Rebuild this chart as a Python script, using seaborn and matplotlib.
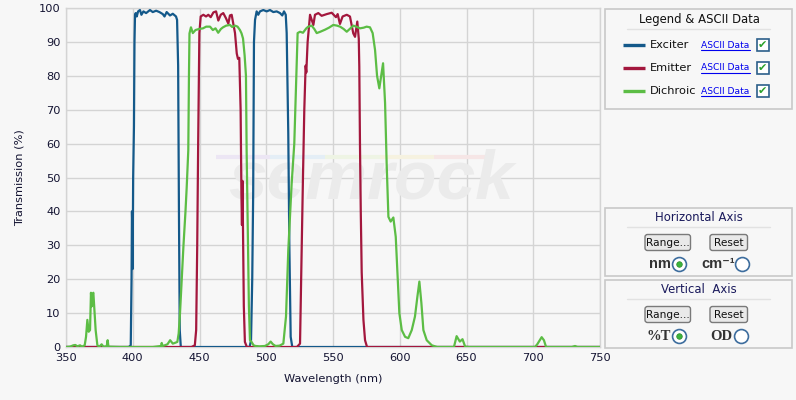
"""Semrock-style filter set spectrum: exciter / emitter / dichroic transmission."""
import numpy as np
import pandas as pd
import matplotlib
matplotlib.use('Agg')
import matplotlib.pyplot as plt
import seaborn as sns
from matplotlib.patches import Rectangle, FancyBboxPatch

W, H = 796, 400
BG = '#f7f7f7'
TXT = '#141432'

# values (wavelength nm, transmission %)
exciter_nm = [350, 397, 398.5, 399.1, 399.4, 399.7, 399.9, 400.3, 400.9, 401.3, 401.7,
              402.2, 403, 404, 405.4, 406.5, 408, 410, 412.9, 415, 417.5, 420, 422.5,
              423.8, 425.4, 427.9, 430, 432.4, 433.2, 434, 434.6, 435.2, 436,
              487.5, 488.6, 489.5, 490.2, 490.8, 491.6, 492.8, 494, 495.3, 497.8, 500.3,
              502.8, 505.3, 507.8, 510.3, 512, 513.3, 514.6, 515.3, 516.5, 517.3, 518.3,
              519.5, 750]
exciter_t = [0, 0, 0.5, 20, 40, 35, 23, 50, 65, 90, 98,
             98.5, 97.5, 99, 99.4, 98, 99, 98.5, 99.4, 98.8, 99.2, 98.8, 98.2,
             97.5, 98.8, 97.8, 98.3, 97.5, 96.5, 83, 40, 5, 0,
             0, 2, 20, 45, 90, 96.5, 99, 98, 99, 99.4, 99,
             99.4, 98.8, 99, 98.5, 97.8, 99, 98, 92.6, 63, 30, 3,
             0, 0]

emitter_nm = [350, 444, 446.5, 447.5, 448.3, 449, 449.9, 450.9, 452.9, 454.9, 456.6,
              458.4, 460.4, 462.4, 464.1, 465.9, 467.8, 469.8, 471.6, 472.8, 474.1,
              475.3, 476.6, 477.9, 478.8, 479.8, 480.8, 481.4, 481.8, 482.2, 482.6,
              483.2, 484, 485.5,
              523, 525.3, 526.5, 527.5, 528.5, 529.5, 530, 531, 532.8, 535.3, 536.5,
              539, 541.5, 545.3, 549, 550.5, 552.2, 553.5, 555.2, 557.2, 560.3, 562.7,
              565.2, 566.5, 568.2, 569.3, 569.7, 570.2, 570.8, 571.5, 572.8, 574,
              575.5, 750]
emitter_t = [0, 0, 0.5, 5, 30, 60, 92.6, 97.5, 98, 97.5, 98,
             97.3, 98.7, 99, 96.3, 98, 98.5, 97, 95.4, 97.8, 98,
             95.4, 92.6, 86.6, 85, 85.3, 70, 45, 36, 49, 34,
             12, 1.5, 0,
             0, 1, 28, 50, 70, 83, 81, 90, 98, 95, 98,
             98.5, 97.7, 98.2, 98.6, 98, 97.3, 98.2, 95.3, 97.5, 98, 97.5,
             92.5, 91.5, 96, 91, 82.7, 60, 40, 22, 8, 2,
             0, 0]

dichroic_nm = [350, 353, 355.5, 357, 358.5, 360.5, 362, 364, 365, 366, 367, 368,
               368.7, 369.3, 369.7, 370.5, 371.2, 372.2, 373.5, 375, 376.7, 378,
               380.5, 381.2, 381.8, 390, 415, 419, 421.2, 421.7, 422.3, 424, 426,
               428, 429, 430, 431.5, 433.4, 434.4, 435.4, 436.7, 438, 439.5, 440.4,
               441.6, 442.1, 442.5, 443.6, 445, 447, 449.5, 452.6, 455, 457.9, 460,
               462, 464, 466, 467.6, 470, 472.8, 474.5, 476.6, 478.5, 480.3, 481.5,
               482.6, 483.8, 484.8, 485.3, 486.3, 487, 487.8, 489, 490.5, 492, 495,
               499, 501.5, 503.3, 505, 507, 510, 512.8, 514.8, 516.5, 519, 521,
               522, 523.5, 525.3, 527.5, 530, 531.5, 534, 536, 537.8, 540.5, 544,
               547, 550.2, 553, 555.3, 558, 560.3, 562.5, 565.2, 567.5, 570.2, 573,
               575.2, 577.7, 579.7, 581.5, 583, 584.7, 586, 587.5, 589, 590.2, 591.5,
               593.2, 595.2, 597, 598.5, 599.7, 601.5, 604, 606.4, 609, 611.4, 613.2,
               614.7, 616.2, 617.7, 620.2, 624, 628, 640.6, 642.6, 645, 647, 649,
               652, 701.3, 703, 706.3, 708, 709.6, 729, 731.3, 733, 750]
dichroic_t = [0, 0.1, 0.5, 0.6, 0.2, 0.5, 0.1, 0.5, 3, 8, 4.5, 5,
              16, 12, 15.5, 16, 11.5, 5, 0.5, 0.1, 0.8, 0.1,
              0.2, 2, 0.1, 0, 0, 0.2, 0.3, 1.2, 0.3, 0.5, 0.8,
              2, 1.5, 1, 1.2, 1.5, 4, 10, 20, 30, 40, 47,
              58, 80, 92.5, 94.3, 92.6, 93.5, 93.8, 94, 94.5, 94.5, 93.5,
              94, 92.7, 93.8, 94.3, 94.8, 95, 94.4, 94.8, 94.5, 93.5, 92.5,
              91, 86, 80, 58, 30, 12, 2, 1.5, 0.5, 0.3, 0.2,
              0.3, 0.8, 1.6, 0.8, 0.3, 0.4, 1, 9, 28.5, 48, 60,
              73, 92.6, 93, 92.7, 94, 94.5, 94.8, 93.8, 92.6, 93, 93.6,
              94.2, 95, 94.8, 94.5, 93.8, 93, 93.8, 94.8, 94.5, 94, 94.2,
              94.5, 94.3, 92.6, 87.6, 80, 76.3, 79.7, 83.7, 72, 54, 38.4,
              37, 38.2, 32.5, 19.8, 10, 5, 3, 2.6, 5, 9, 14.8,
              19.3, 13, 5, 2, 0.5, 0, 0, 3.2, 1.6, 2.3, 0.1,
              0, 0, 0.8, 2.9, 2, 0, 0, 0.3, 0, 0]

series = ['Exciter', 'Emitter', 'Dichroic']
colors = {'Exciter': '#14598a', 'Emitter': '#a3173d', 'Dichroic': '#5cbd45'}

xticks = [350, 400, 450, 500, 550, 600, 650, 700, 750]
yticks = [0, 10, 20, 30, 40, 50, 60, 70, 80, 90, 100]

df = pd.concat([
    pd.DataFrame({'nm': exciter_nm, 'T': exciter_t, 'filter': 'Exciter'}),
    pd.DataFrame({'nm': emitter_nm, 'T': emitter_t, 'filter': 'Emitter'}),
    pd.DataFrame({'nm': dichroic_nm, 'T': dichroic_t, 'filter': 'Dichroic'}),
], ignore_index=True)

sns.set_theme(style='whitegrid')
plt.rcParams['font.family'] = ['DejaVu Sans']

fig = plt.figure(figsize=(W / 100, H / 100), dpi=100, facecolor=BG)
ax = fig.add_axes([66 / W, 1 - 347 / H, (600 - 66) / W, (347 - 8) / H])
ax.set_facecolor(BG)

sns.lineplot(data=df, x='nm', y='T', hue='filter', hue_order=series, palette=colors,
             estimator=None, sort=False, linewidth=1.6, legend=False, ax=ax, zorder=3)

ax.set_xlim(350, 750)
ax.set_ylim(0, 100)
ax.set_xticks(xticks)
ax.set_yticks(yticks)
ax.grid(True, color='#d4d4d4', linewidth=1.0)
for s in ax.spines.values():
    s.set_color('#d4d4d4')
    s.set_linewidth(1.0)
ax.tick_params(axis='both', length=0, labelsize=8.2, labelcolor=TXT, pad=4)
ax.set_xlabel('Wavelength (nm)', fontsize=8.2, color=TXT, labelpad=8)
ax.set_ylabel('Transmission (%)', fontsize=8.2, color=TXT, labelpad=10)

# faint watermark with its colour stripe
stripe = ['#ece6f4', '#e4eef6', '#eef4e4', '#f6f2e0', '#f6e6e6']
for i, c in enumerate(stripe):
    ax.plot([462 + i * 41, 503 + i * 41], [56, 56], color=c, lw=3,
            solid_capstyle='butt', zorder=1.4)
ax.text(0.572, 0.49, 'semrock', transform=ax.transAxes, ha='center', va='center',
        fontsize=50, fontstyle='italic', fontweight='bold', family='Liberation Sans',
        color='#ebebeb', zorder=1.5)

# overlay in pixel coordinates for the side panels
ov = fig.add_axes([0, 0, 1, 1], zorder=5)
ov.set_xlim(0, W)
ov.set_ylim(H, 0)
ov.axis('off')

PANEL_EDGE = '#c9c9c9'
SEP = '#e2e2e2'


def panel(y0, y1, title, title_color, sep_y):
    ov.add_patch(Rectangle((604.5, y0), 187, y1 - y0, fill=False, ec=PANEL_EDGE, lw=1.2))
    ov.text(699, (y0 + sep_y) / 2 + 0.5, title, ha='center', va='center', fontsize=8.4,
            color=title_color)
    ov.plot([627, 770], [sep_y, sep_y], color=SEP, lw=1)


def button(x0, x1, y0, y1, label):
    ov.add_patch(FancyBboxPatch((x0, y0), x1 - x0, y1 - y0,
                                boxstyle='round,pad=0,rounding_size=2.5',
                                fc='#e9e9e9', ec='#7a7a7a', lw=1))
    ov.text((x0 + x1) / 2, (y0 + y1) / 2 + 0.5, label, ha='center', va='center',
            fontsize=7.6, color='#111111')


def radio(x, y, on):
    ov.plot([x], [y], marker='o', ms=10, mfc='white', mec='#3d6d9e', mew=1.2)
    if on:
        ov.plot([x], [y], marker='o', ms=4, mfc='#3cb43c', mec='#2a8a2a', mew=0.5)


panel(8.5, 108.5, 'Legend & ASCII Data', '#111111', 28.5)
for i, name in enumerate(series):
    y = 44.5 + i * 23
    ov.plot([623, 645], [y, y], color=colors[name], lw=2.4, solid_capstyle='butt')
    ov.text(650, y + 0.5, name, ha='left', va='center', fontsize=8.2, color='#111111')
    ov.text(701, y + 0.5, 'ASCII Data', ha='left', va='center', fontsize=6.6,
            color='#0000ee')
    ov.plot([701, 750], [y + 5, y + 5], color='#0000ee', lw=0.8)
    ov.add_patch(Rectangle((756.5, y - 6), 12, 12, fc='white', ec='#2c5f8a', lw=1.2))
    ov.text(762.5, y + 0.5, '\u2714', ha='center', va='center', fontsize=8,
            color='#2aa12a')

panel(207.5, 275.5, 'Horizontal Axis', '#1a1a5c', 227)
button(645, 690.5, 234.5, 250.5, 'Range...')
button(710, 747.5, 234.5, 250.5, 'Reset')
ov.text(671, 264, 'nm', ha='right', va='center', fontsize=10.5, fontweight='bold',
        family='Liberation Sans', color='#333333')
radio(678.5, 263.5, True)
ov.text(735, 264, 'cm\u207b\u00b9', ha='right', va='center', fontsize=10.5,
        fontweight='bold', family=['Liberation Sans', 'DejaVu Sans'], color='#333333')
radio(741.5, 263.5, False)

panel(279.5, 347.5, 'Vertical  Axis', '#1a1a5c', 298.5)
button(645, 690.5, 306.5, 322.5, 'Range...')
button(710, 747.5, 306.5, 322.5, 'Reset')
ov.text(671, 336, '%T', ha='right', va='center', fontsize=10.5, fontweight='bold',
        family='Liberation Serif', color='#333333')
radio(679, 335.5, True)
ov.text(732, 336, 'OD', ha='right', va='center', fontsize=10.5, fontweight='bold',
        family='Liberation Serif', color='#333333')
radio(740.5, 335.5, False)

fig.savefig('out.png', dpi=100, facecolor=BG)
